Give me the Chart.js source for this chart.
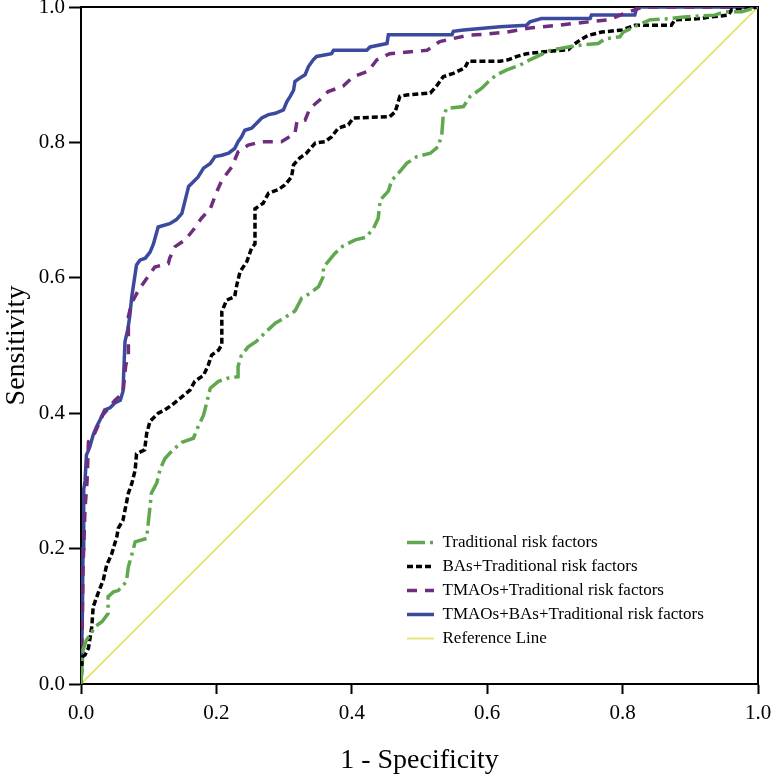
<!DOCTYPE html>
<html>
<head>
<meta charset="utf-8">
<script src="https://cdn.jsdelivr.net/npm/chart.js@4.4.1/dist/chart.umd.min.js"></script>
<style>
  html, body { margin: 0; padding: 0; background: #ffffff; }
  #wrap { width: 773px; height: 780px; }
</style>
</head>
<body>
<div id="wrap"><canvas id="c" width="773" height="780"></canvas></div>
<script>
// ---- data (1 - specificity, sensitivity) ----
const seriesLabels = [
  'Traditional risk factors',
  'BAs+Traditional risk factors',
  'TMAOs+Traditional risk factors',
  'TMAOs+BAs+Traditional risk factors',
  'Reference Line'
];
const xTickValues = [0, 0.2, 0.4, 0.6, 0.8, 1.0];

const tradX = [0,0.003,0.008,0.013,0.021,0.031,0.040,0.040,0.048,0.055,0.067,0.070,0.075,0.080,0.097,0.099,0.102,0.104,0.112,0.117,0.124,0.136,0.149,0.166,0.173,0.181,0.186,0.191,0.203,0.218,0.232,0.232,0.237,0.247,0.259,0.274,0.287,0.299,0.316,0.326,0.338,0.351,0.358,0.358,0.365,0.375,0.387,0.405,0.421,0.432,0.439,0.442,0.454,0.459,0.471,0.481,0.496,0.516,0.528,0.533,0.535,0.540,0.565,0.575,0.592,0.602,0.614,0.629,0.648,0.663,0.678,0.693,0.720,0.740,0.764,0.774,0.796,0.801,0.818,0.840,0.872,0.887,0.936,0.951,0.976,1];
const tradY = [0,0.050,0.065,0.072,0.085,0.092,0.104,0.129,0.136,0.138,0.151,0.173,0.191,0.210,0.215,0.235,0.262,0.282,0.297,0.318,0.333,0.346,0.357,0.363,0.380,0.397,0.417,0.437,0.447,0.452,0.454,0.469,0.486,0.498,0.506,0.521,0.533,0.540,0.551,0.570,0.577,0.587,0.602,0.616,0.624,0.636,0.647,0.656,0.660,0.673,0.688,0.715,0.728,0.744,0.757,0.769,0.779,0.784,0.794,0.813,0.838,0.850,0.853,0.868,0.880,0.890,0.900,0.907,0.914,0.922,0.929,0.936,0.941,0.944,0.946,0.953,0.956,0.963,0.971,0.981,0.983,0.985,0.988,0.993,0.993,1];

const basX = [0,0.002,0.006,0.011,0.016,0.018,0.026,0.033,0.038,0.045,0.053,0.055,0.062,0.070,0.075,0.080,0.082,0.094,0.097,0.102,0.114,0.124,0.134,0.149,0.161,0.168,0.181,0.188,0.193,0.203,0.208,0.208,0.215,0.227,0.230,0.235,0.245,0.252,0.257,0.257,0.269,0.277,0.291,0.301,0.311,0.314,0.323,0.333,0.346,0.360,0.370,0.380,0.395,0.402,0.456,0.464,0.471,0.481,0.516,0.525,0.535,0.550,0.567,0.572,0.619,0.631,0.644,0.658,0.685,0.720,0.727,0.740,0.749,0.769,0.799,0.818,0.872,0.877,0.917,0.927,0.956,0.961,0.976,1];
const basY = [0,0.040,0.043,0.053,0.085,0.114,0.136,0.154,0.176,0.191,0.218,0.230,0.242,0.282,0.296,0.316,0.340,0.346,0.370,0.388,0.400,0.405,0.412,0.424,0.434,0.447,0.456,0.471,0.486,0.493,0.501,0.550,0.567,0.572,0.589,0.609,0.624,0.644,0.650,0.702,0.710,0.725,0.730,0.737,0.749,0.767,0.777,0.784,0.799,0.801,0.808,0.821,0.826,0.836,0.838,0.845,0.868,0.870,0.873,0.883,0.897,0.902,0.910,0.920,0.920,0.922,0.927,0.931,0.934,0.937,0.944,0.953,0.958,0.963,0.966,0.973,0.973,0.981,0.983,0.985,0.988,0.996,0.996,1];

const tmaoX = [0,0.002,0.003,0.006,0.009,0.011,0.020,0.032,0.050,0.062,0.066,0.070,0.070,0.075,0.085,0.097,0.109,0.129,0.131,0.139,0.154,0.166,0.178,0.191,0.200,0.208,0.223,0.232,0.247,0.267,0.296,0.316,0.319,0.331,0.338,0.353,0.365,0.387,0.402,0.424,0.437,0.456,0.511,0.530,0.570,0.599,0.629,0.663,0.705,0.730,0.779,0.801,0.830,1];
const tmaoY = [0,0.100,0.170,0.260,0.300,0.358,0.370,0.397,0.419,0.430,0.470,0.486,0.543,0.563,0.582,0.599,0.616,0.621,0.629,0.646,0.656,0.671,0.688,0.702,0.726,0.744,0.764,0.786,0.796,0.801,0.801,0.813,0.831,0.833,0.850,0.863,0.875,0.883,0.897,0.905,0.922,0.931,0.936,0.949,0.958,0.960,0.963,0.969,0.973,0.976,0.981,0.990,1,1];

const allX = [0,0.002,0.003,0.004,0.006,0.008,0.013,0.018,0.023,0.028,0.035,0.043,0.050,0.058,0.062,0.065,0.069,0.072,0.075,0.079,0.082,0.087,0.095,0.102,0.107,0.114,0.131,0.141,0.149,0.154,0.159,0.166,0.173,0.181,0.191,0.198,0.208,0.218,0.227,0.232,0.237,0.242,0.252,0.259,0.267,0.277,0.287,0.299,0.304,0.309,0.314,0.316,0.323,0.331,0.336,0.343,0.348,0.370,0.373,0.422,0.427,0.452,0.454,0.548,0.550,0.565,0.619,0.658,0.663,0.680,0.752,0.754,0.818,0.821,1];
const allY = [0,0.100,0.200,0.287,0.300,0.338,0.350,0.368,0.380,0.390,0.405,0.408,0.415,0.419,0.432,0.506,0.523,0.543,0.572,0.599,0.619,0.626,0.629,0.638,0.650,0.675,0.680,0.686,0.695,0.715,0.735,0.742,0.749,0.762,0.769,0.779,0.781,0.784,0.791,0.801,0.808,0.818,0.821,0.828,0.836,0.841,0.843,0.848,0.860,0.868,0.877,0.890,0.895,0.900,0.912,0.922,0.927,0.931,0.936,0.936,0.941,0.946,0.959,0.959,0.964,0.966,0.971,0.973,0.978,0.983,0.983,0.988,0.988,1,1];

const refX = [0, 1];
const refY = [0, 1];

// ---- helpers ----
const pts = (xs, ys) => xs.map((x, i) => ({ x: x, y: ys[i] }));
const SERIF = "'Liberation Serif', 'Times New Roman', serif";

const datasets = [
  { label: seriesLabels[0], data: pts(tradX, tradY), borderColor: '#5fa84e', borderWidth: 3.5, borderDash: [18, 5, 3, 5] },
  { label: seriesLabels[1], data: pts(basX, basY), borderColor: '#000000', borderWidth: 3.5, borderDash: [6, 3] },
  { label: seriesLabels[2], data: pts(tmaoX, tmaoY), borderColor: '#6e2d7e', borderWidth: 3.5, borderDash: [10, 8] },
  { label: seriesLabels[3], data: pts(allX, allY), borderColor: '#3b4a9f', borderWidth: 3.5, borderDash: [] },
  { label: seriesLabels[4], data: pts(refX, refY), borderColor: '#e8e47c', borderWidth: 2, borderDash: [] }
].map(d => Object.assign(d, {
  showLine: true, pointRadius: 0, pointHoverRadius: 0, fill: false, tension: 0,
  xAxisID: 'x', yAxisID: 'y', borderJoinStyle: 'miter', borderCapStyle: 'butt'
}));

// place the legend box inside the plot, lower right
const legendPlacer = {
  id: 'legendPlacer',
  afterLayout(chart) {
    const lg = chart.legend;
    if (!lg) return;
    const ca = chart.chartArea;
    lg.left = 400;
    lg.top = 527;
    lg.right = ca.right;
    lg.bottom = ca.bottom;
    lg.width = lg.right - lg.left;
    lg.height = lg.bottom - lg.top;
  }
};

const tickFmt = v => Number(v).toFixed(1);

new Chart(document.getElementById('c'), {
  type: 'scatter',
  data: { datasets: datasets },
  plugins: [legendPlacer],
  options: {
    responsive: false,
    animation: false,
    events: [],
    layout: { padding: { top: 7, right: 15, left: 0, bottom: 0 } },
    plugins: {
      tooltip: { enabled: false },
      title: { display: false },
      legend: {
        display: true,
        position: 'chartArea',
        align: 'start',
        labels: {
          usePointStyle: true,
          pointStyle: 'line',
          pointStyleWidth: 27,
          padding: 7,
          color: '#000000',
          font: { family: SERIF, size: 17 },
          generateLabels: (chart) => {
            const base = Chart.defaults.plugins.legend.labels.generateLabels(chart);
            return base.map(it => {
              const ds = chart.data.datasets[it.datasetIndex];
              return Object.assign({}, it, {
                lineDash: ds.borderDash || [],
                lineWidth: ds.borderWidth,
                strokeStyle: ds.borderColor,
                pointStyle: 'line',
                lineCap: 'butt'
              });
            });
          }
        }
      }
    },
    scales: {
      x: {
        type: 'linear', position: 'bottom', min: 0, max: 1,
        afterBuildTicks: (s) => { s.ticks = xTickValues.map(v => ({ value: v })); },
        afterFit: (s) => { s.height = 96; s.paddingLeft = 0; s.paddingRight = 0; },
        ticks: { callback: tickFmt, color: '#000', padding: 7, maxRotation: 0, font: { family: SERIF, size: 21 } },
        grid: { display: true, drawOnChartArea: false, drawTicks: true, tickLength: 10, color: '#000', tickWidth: 2 },
        border: { display: true, color: '#000', width: 2 },
        title: { display: true, text: '1 - Specificity', color: '#000', padding: { top: 0, bottom: 3 }, font: { family: SERIF, size: 28 } }
      },
      y: {
        type: 'linear', position: 'left', min: 0, max: 1,
        afterBuildTicks: (s) => { s.ticks = xTickValues.map(v => ({ value: v })); },
        afterFit: (s) => { s.width = 81; s.paddingTop = 0; s.paddingBottom = 0; },
        ticks: { callback: tickFmt, color: '#000', padding: 4, font: { family: SERIF, size: 21 } },
        grid: { display: true, drawOnChartArea: false, drawTicks: true, tickLength: 12, color: '#000', tickWidth: 2 },
        border: { display: true, color: '#000', width: 2 },
        title: { display: true, text: 'Sensitivity', color: '#000', padding: { top: 0, bottom: 0 }, font: { family: SERIF, size: 28 } }
      },
      x2: {
        type: 'linear', position: 'top', min: 0, max: 1,
        afterFit: (s) => { s.height = 0; s.paddingLeft = 0; s.paddingRight = 0; },
        ticks: { display: false },
        grid: { display: false, drawTicks: false },
        border: { display: true, color: '#000', width: 2 }
      },
      y2: {
        type: 'linear', position: 'right', min: 0, max: 1,
        afterFit: (s) => { s.width = 0; s.paddingTop = 0; s.paddingBottom = 0; },
        ticks: { display: false },
        grid: { display: false, drawTicks: false },
        border: { display: true, color: '#000', width: 2 }
      }
    }
  }
});
</script>
</body>
</html>
